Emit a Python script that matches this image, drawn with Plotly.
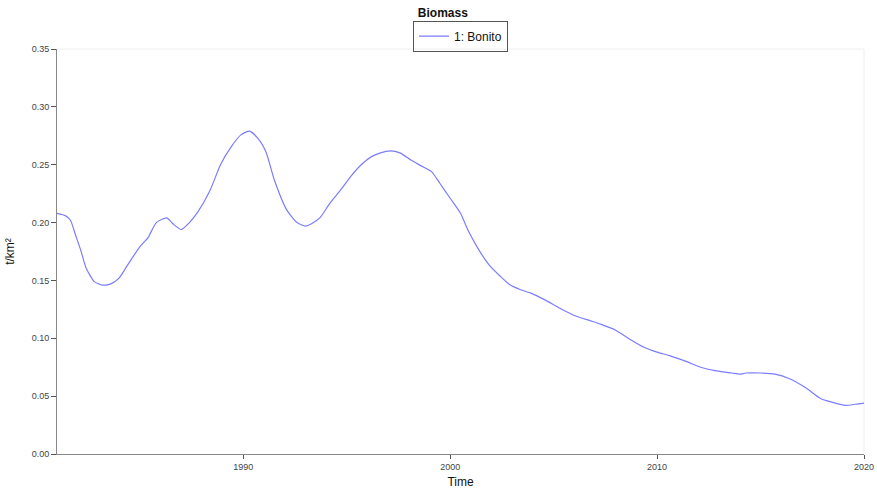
import plotly.graph_objects as go

years = [1981.0, 1981.4, 1981.65, 1981.9, 1982.15, 1982.4, 1982.8, 1983.2, 1983.6, 1984.0,
         1984.4, 1985.0, 1985.4, 1985.8, 1986.3, 1986.6, 1987.0, 1987.4, 1987.8, 1988.4,
         1988.9, 1989.4, 1989.9, 1990.3, 1990.7, 1991.1, 1991.5, 1992.1, 1992.6, 1993.0,
         1993.3, 1993.7, 1994.2, 1994.7, 1995.2, 1995.7, 1996.2, 1996.6, 1997.1, 1997.6,
         1998.1, 1998.6, 1999.1, 1999.5, 2000.0, 2000.5, 2000.9, 2001.4, 2001.9, 2002.4,
         2002.9, 2003.4, 2003.9, 2004.6, 2005.3, 2006.1, 2006.8, 2007.3, 2008.0, 2008.7,
         2009.4, 2010.0, 2010.6, 2011.4, 2012.1, 2012.8, 2013.6, 2014.0, 2014.3, 2015.0,
         2015.7, 2016.4, 2017.2, 2017.9, 2018.4, 2019.1, 2019.6, 2020.0]
bonito = [0.208, 0.206, 0.202, 0.189, 0.176, 0.161, 0.149, 0.146, 0.147, 0.152,
          0.163, 0.179, 0.187, 0.200, 0.204, 0.199, 0.194, 0.200, 0.209, 0.228,
          0.250, 0.265, 0.276, 0.279, 0.273, 0.261, 0.237, 0.211, 0.200, 0.197,
          0.199, 0.204, 0.217, 0.228, 0.240, 0.250, 0.257, 0.260, 0.262, 0.260,
          0.254, 0.249, 0.244, 0.234, 0.221, 0.208, 0.192, 0.176, 0.163, 0.154,
          0.146, 0.142, 0.139, 0.133, 0.126, 0.119, 0.115, 0.112, 0.107, 0.099,
          0.092, 0.088, 0.085, 0.080, 0.075, 0.072, 0.070, 0.069, 0.070, 0.070,
          0.069, 0.065, 0.057, 0.048, 0.045, 0.042, 0.043, 0.044]

x_ticks = [1990, 2000, 2010, 2020]
y_ticks = [0.00, 0.05, 0.10, 0.15, 0.20, 0.25, 0.30, 0.35]

font = "Liberation Sans, Arial, sans-serif"

fig = go.Figure()
fig.add_trace(go.Scatter(
    x=years, y=bonito, mode="lines", name="1: Bonito",
    line=dict(color="#7c7cff", width=1.2, shape="spline", smoothing=0.6),
))

fig.update_layout(
    width=877, height=495,
    margin=dict(l=57, r=13, t=49, b=41, autoexpand=False),
    paper_bgcolor="white", plot_bgcolor="white",
    font=dict(family=font, color="#333333"),
    title=dict(text="<b>Biomass</b>", x=0.505, xanchor="center", y=0.974, yanchor="middle",
               font=dict(size=12, color="#111111", family=font)),
    showlegend=True,
    legend=dict(x=0.5, xanchor="center", y=1.032, yanchor="middle", orientation="h",
                bordercolor="#555555", borderwidth=1, bgcolor="rgba(255,255,255,0)",
                font=dict(size=12, color="#111111", family=font),
                itemwidth=30, tracegroupgap=0),
    xaxis=dict(range=[1981, 2020], tickvals=x_ticks, ticktext=[str(v) for v in x_ticks],
               automargin=False,
               showgrid=False, zeroline=False, showline=True, linecolor="#888888", linewidth=1,
               ticks="outside", ticklen=4, tickcolor="#555555",
               tickfont=dict(size=9, color="#444444", family=font),
               title=dict(text="Time", font=dict(size=12, color="#111111", family=font), standoff=6)),
    yaxis=dict(range=[0, 0.35], tickvals=y_ticks, ticktext=[f"{v:.2f}" for v in y_ticks],
               automargin=False,
               showgrid=False, zeroline=False, showline=True, linecolor="#888888", linewidth=1,
               ticks="outside", ticklen=5, tickcolor="#555555",
               tickfont=dict(size=9, color="#444444", family=font),
               title=dict(text="t/km²", font=dict(size=12, color="#111111", family=font), standoff=14)),
)

# faint frame on top and right of the plot area
fig.add_shape(type="line", xref="paper", yref="paper", x0=0, x1=1, y0=1, y1=1,
              line=dict(color="#eeeeee", width=1), layer="below")
fig.add_shape(type="line", xref="paper", yref="paper", x0=1, x1=1, y0=0, y1=1,
              line=dict(color="#eeeeee", width=1), layer="below")

fig.write_html("out.html")
